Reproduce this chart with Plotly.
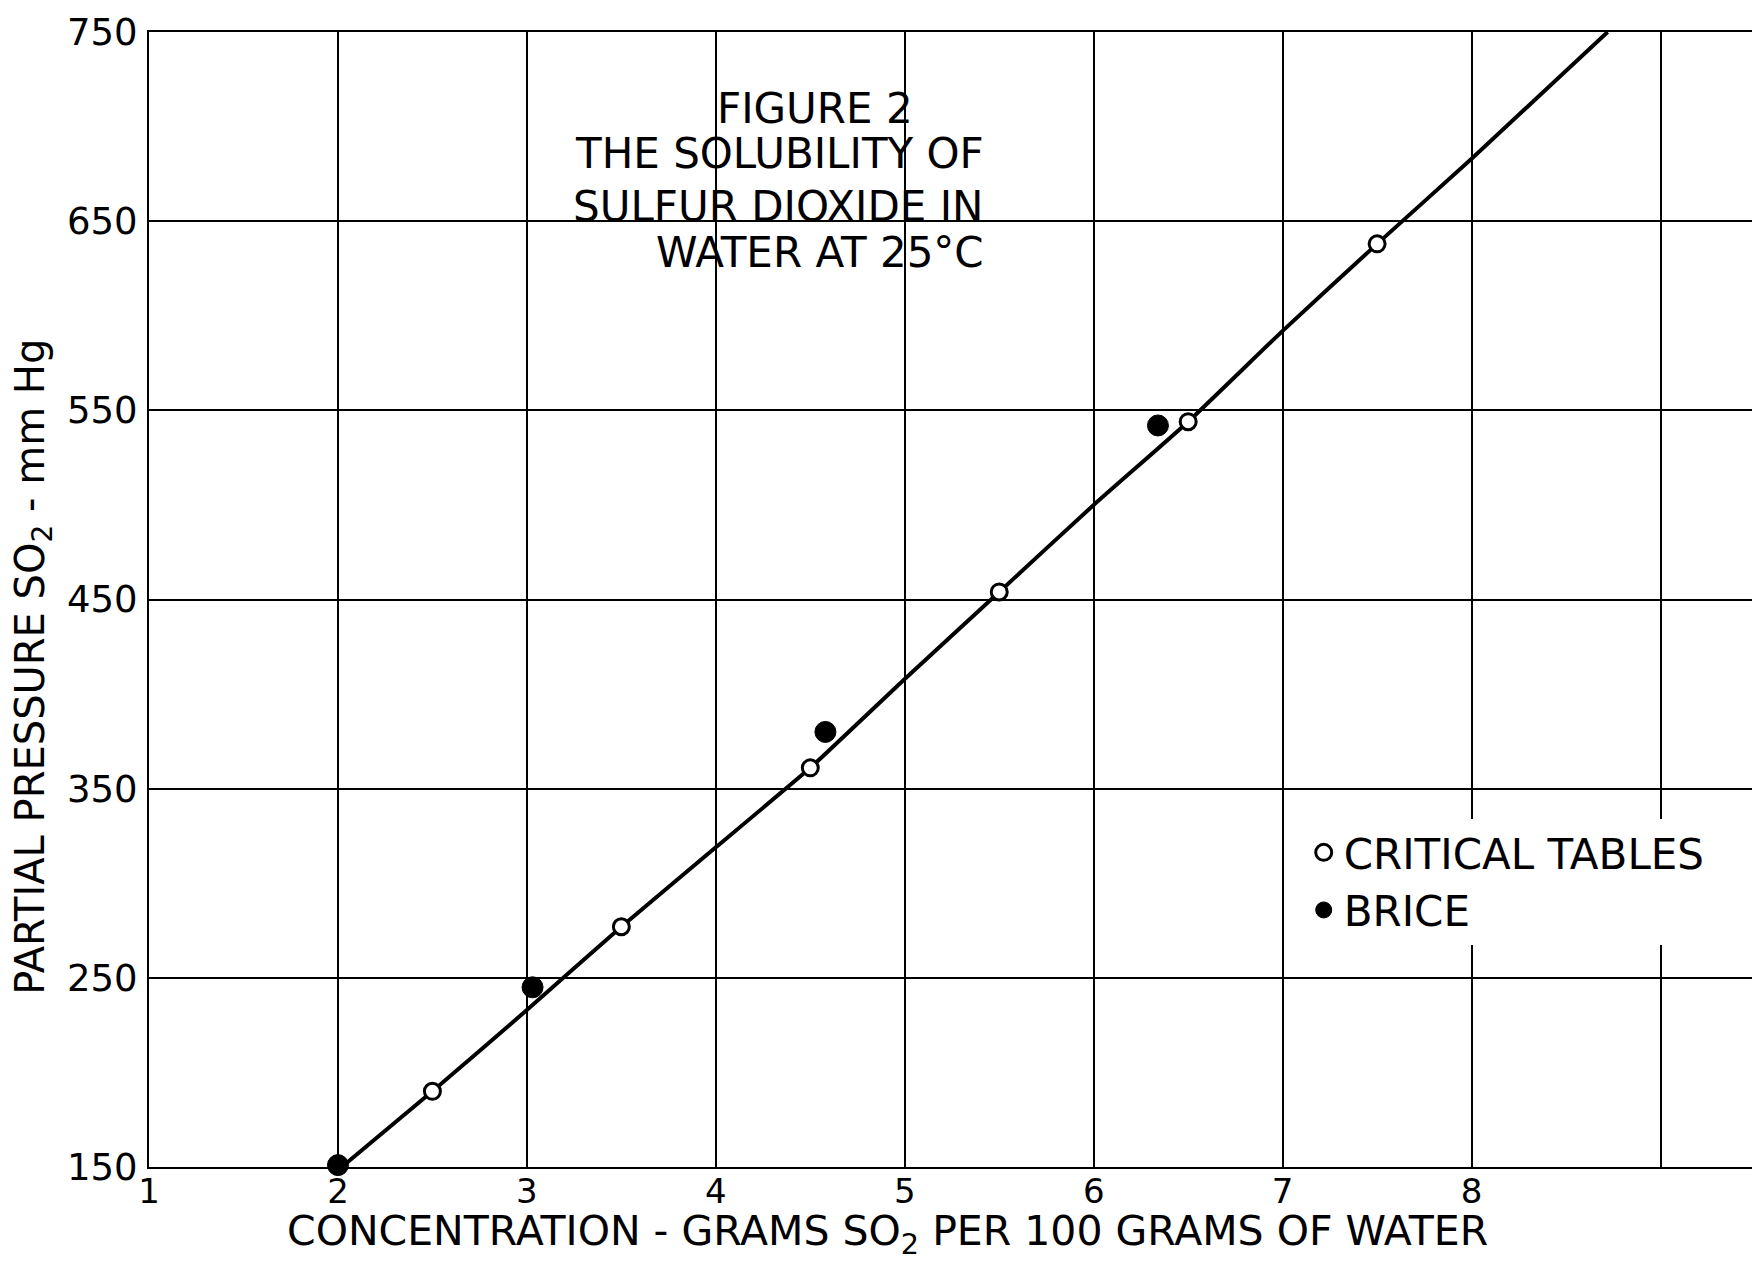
import plotly.graph_objects as go

# Data
ct_x = [2.5, 3.5, 4.5, 5.5, 6.5, 7.5]
ct_y = [190, 277, 361, 454, 544, 638]
brice_x = [2.0, 3.03, 4.58, 6.34, 8.72]
brice_y = [151, 245, 380, 542, 754]
curve_x = [2.02, 2.5, 3.0, 3.5, 4.0, 4.5, 5.0, 5.5, 6.0, 6.5, 7.0, 7.5, 8.0, 8.72]
curve_y = [150, 190, 233, 277, 319, 361, 408, 454, 500, 544, 592, 638, 683, 750]

x_ticks = [1, 2, 3, 4, 5, 6, 7, 8, 9]
x_labels = ["1", "2", "3", "4", "5", "6", "7", "8", ""]
y_ticks = [150, 250, 350, 450, 550, 650, 750]
y_labels = ["150", "250", "350", "450", "550", "650", "750"]

FONT = "DejaVu Sans"

fig = go.Figure()
fig.add_trace(go.Scatter(
    x=curve_x, y=curve_y, mode="lines",
    line=dict(color="black", width=4, shape="spline", smoothing=0.4),
    showlegend=False, hoverinfo="skip", cliponaxis=False))
fig.add_trace(go.Scatter(
    x=ct_x, y=ct_y, mode="markers", name="CRITICAL TABLES",
    marker=dict(symbol="circle", size=16, color="white",
                line=dict(color="black", width=3))))
fig.add_trace(go.Scatter(
    x=brice_x, y=brice_y, mode="markers", name="BRICE",
    marker=dict(symbol="circle", size=21, color="black",
                line=dict(color="black", width=1)),
    cliponaxis=False))

# page body has an 8px margin, so the figure is sized to compensate
fig.update_layout(
    width=1752, height=1255,
    margin=dict(l=141, r=3, t=20, b=96),
    paper_bgcolor="white", plot_bgcolor="white",
    font=dict(family=FONT, color="black", size=36),
    legend=dict(x=0.719, y=0.307, xanchor="left", yanchor="top",
                bgcolor="white", borderwidth=0,
                font=dict(family=FONT, size=42, color="black"),
                itemsizing="trace", tracegroupgap=0),
    xaxis=dict(range=[1, 9.5], tickvals=x_ticks, ticktext=x_labels,
               showgrid=True, gridcolor="black", gridwidth=2,
               showline=True, linecolor="black", linewidth=2, mirror=True,
               zeroline=False, ticks="", ticklabelstandoff=-7,
               ticklabeloverflow="allow",
               tickfont=dict(family=FONT, size=34, color="black")),
    yaxis=dict(range=[150, 750], tickvals=y_ticks, ticktext=y_labels,
               showgrid=True, gridcolor="black", gridwidth=2,
               showline=True, linecolor="black", linewidth=2, mirror=True,
               zeroline=False, ticks="", ticklabelstandoff=2,
               ticklabeloverflow="allow",
               tickfont=dict(family=FONT, size=37, color="black")),
)

ann_font = dict(family=FONT, size=42, color="black")
fig.add_annotation(x=0.415, y=0.933, xref="paper", yref="paper",
                   text="FIGURE 2", showarrow=False, font=ann_font,
                   xanchor="center", yanchor="middle")
for txt, yy in [("THE SOLUBILITY OF", 0.893),
                ("SULFUR DIOXIDE IN", 0.846),
                ("WATER AT 25°C", 0.806)]:
    fig.add_annotation(x=0.521, y=yy, xref="paper", yref="paper",
                       text=txt, showarrow=False, font=ann_font,
                       xanchor="right", yanchor="middle")

fig.add_annotation(x=0.460, y=-0.059, xref="paper", yref="paper",
                   text="CONCENTRATION - GRAMS SO<sub>2</sub> PER 100 GRAMS OF WATER",
                   showarrow=False, font=dict(family=FONT, size=41, color="black"),
                   xanchor="center", yanchor="middle")
fig.add_annotation(x=-0.072, y=0.441, xref="paper", yref="paper",
                   text="PARTIAL PRESSURE SO<sub>2</sub> - mm Hg",
                   textangle=-90, showarrow=False,
                   font=dict(family=FONT, size=40, color="black"),
                   xanchor="center", yanchor="middle")

fig.write_html("out.html")
